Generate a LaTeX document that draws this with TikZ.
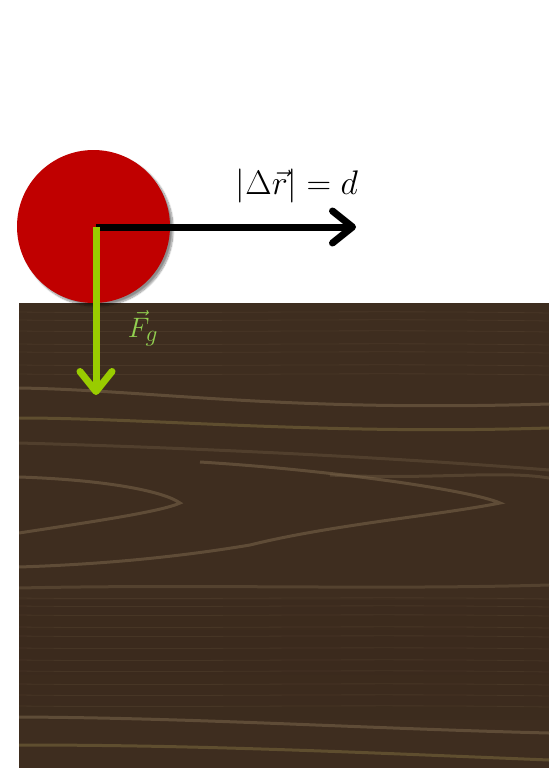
\documentclass[tikz,border=0pt]{standalone}
\usepackage{graphicx}
\usetikzlibrary{arrows.meta,shadows.blur}
\definecolor{ballred}{RGB}{192,0,0}
\definecolor{forcegreen}{RGB}{153,204,0}
\definecolor{labelgreen}{RGB}{146,208,80}
\definecolor{woodbase}{RGB}{62,45,31}
\definecolor{wooddark}{RGB}{52,37,25}
\definecolor{grain}{RGB}{118,98,72}
\definecolor{grainyel}{RGB}{118,100,58}
\tikzset{
  ball/.style={circle, fill=ballred, minimum size=153pt, inner sep=0pt,
    blur shadow={shadow xshift=3pt, shadow yshift=-3pt, shadow blur steps=12, shadow opacity=45}},
  vecarrow/.style={line width=7pt, -{Straight Barb[length=20pt, width=32pt, round]}},
  grainline/.style={grain, line width=3pt, opacity=0.6},
  grainfine/.style={grain, line width=0.8pt, opacity=0.2},
  mathlabel/.style={inner sep=0pt}
}
\begin{document}
\begin{tikzpicture}[x=1pt,y=-1pt]
\useasboundingbox (0,0) rectangle (549,768);
% wood block
\fill[woodbase] (19,303) rectangle (549,768);
\begin{scope}
\clip (19,303) rectangle (549,768);
\foreach \yy/\op in {600/0.15,615/0.2,630/0.25,645/0.25,660/0.25,675/0.2,690/0.15,705/0.1}{
  \fill[wooddark, opacity=\op] (19,\yy) rectangle (549,\yy+15);
}
\foreach \yy in {312,320,331,344,352,365,374,598,606,615,627,636,648,660,671,684,695,706}{
  \draw[grainfine] (19,\yy) .. controls (180,\yy+2) and (360,\yy-2) .. (549,\yy+1);
}
\draw[grainline] (19,388) .. controls (150,390) and (280,412) .. (549,404);
\draw[grainline, grainyel] (19,418) .. controls (150,418) and (320,435) .. (549,428);
\draw[grainline, opacity=0.35] (19,443) .. controls (200,448) and (400,458) .. (549,470);
\draw[grainline] (19,477) .. controls (110,480) and (165,492) .. (180,503)
                 .. controls (160,512) and (90,522) .. (19,533);
\draw[grainline] (200,462) .. controls (330,470) and (470,490) .. (500,503)
                 .. controls (440,515) and (330,525) .. (250,545)
                 .. controls (160,560) and (80,565) .. (19,567);
\draw[grainline, opacity=0.4] (330,475) .. controls (430,480) and (500,470) .. (549,478);
\draw[grainline, opacity=0.4] (19,588) .. controls (200,584) and (380,590) .. (549,585);
\draw[grainline] (19,717) .. controls (200,718) and (350,728) .. (549,733);
\draw[grainline, grainyel] (19,745) .. controls (200,745) and (350,752) .. (549,760);
\end{scope}
% ball
\node[ball] (ballnode) at (93.5,226.5) {};
\coordinate (c) at (96,227);
\coordinate (dr) at (356,227);
\coordinate (fg) at (96,395);
\draw[vecarrow, black] (c) -- (dr);
\draw[vecarrow, forcegreen] (c) -- (fg);
\node[mathlabel] (drlabel) at (297,186) {\scalebox{1.37}{\Huge$|\Delta\vec{r}|=d$}};
\node[mathlabel, text=labelgreen] (fglabel) at (143,328) {\scalebox{1.13}{\Huge$\vec{F}_g$}};
\end{tikzpicture}
\end{document}
